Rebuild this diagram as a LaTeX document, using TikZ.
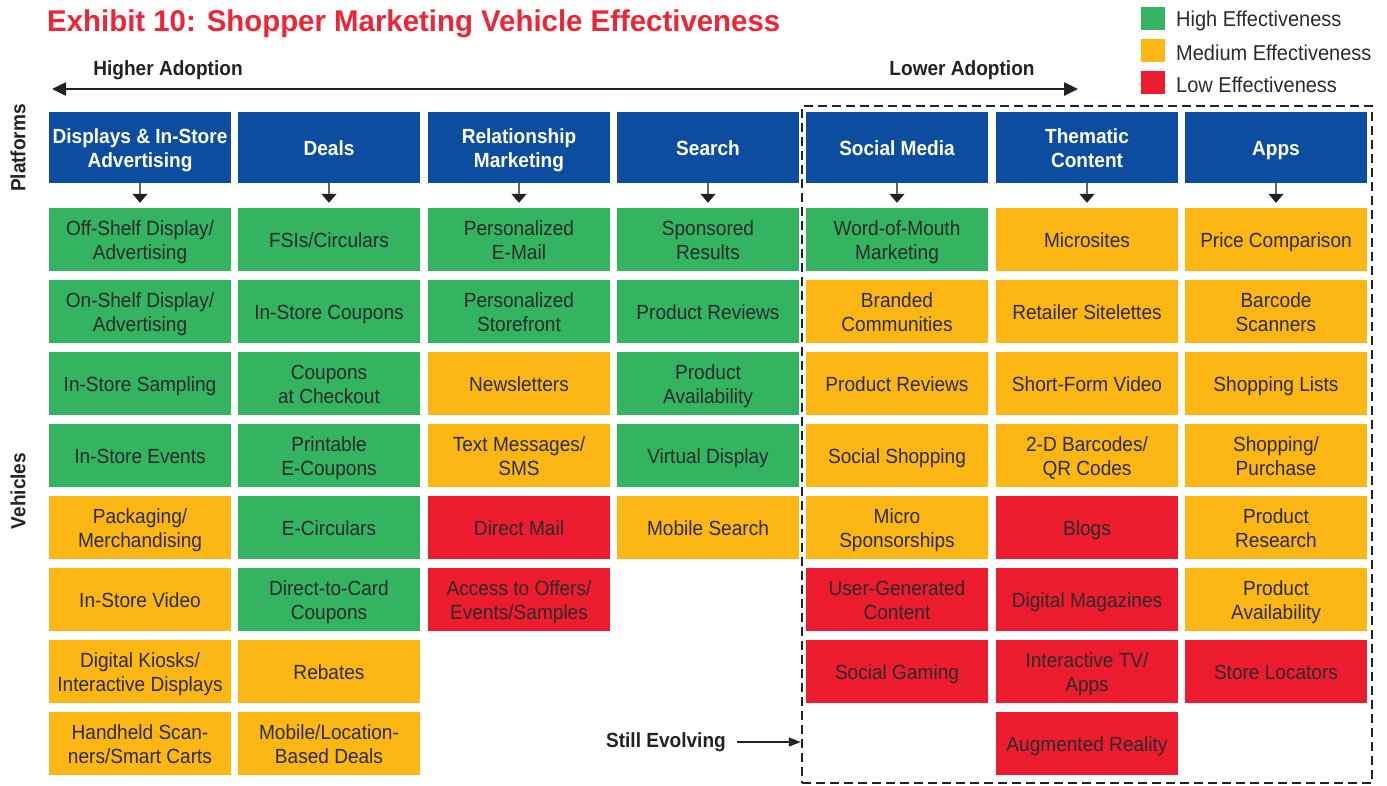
\documentclass[tikz,border=0pt]{standalone}
\usepackage{fontspec}
\setmainfont{Liberation Sans}[FakeStretch=0.93]
\newfontfamily\titlefont{Liberation Sans}[FakeStretch=0.98]
\usetikzlibrary{arrows.meta}
\definecolor{hgreen}{HTML}{34B361}
\definecolor{morange}{HTML}{FDB714}
\definecolor{lred}{HTML}{ED1C2E}
\definecolor{pblue}{HTML}{0D4DA0}
\definecolor{txt}{HTML}{2B2B2B}
\definecolor{titlered}{HTML}{EE2536}
\definecolor{dark}{HTML}{222222}
\newcommand\ct[1]{\vbox{\kern6.5pt\hbox{\begin{tabular}{@{}c@{}}#1\end{tabular}}}}
\tikzset{
  cell/.style={minimum width=182pt, minimum height=63pt, inner sep=0pt, text=txt, font=\fontsize{20.5}{24}\selectfont},
  G/.style={cell, fill=hgreen},
  M/.style={cell, fill=morange},
  L/.style={cell, fill=lred},
  hdr/.style={minimum width=182pt, minimum height=71pt, inner sep=0pt, fill=pblue, text=white, font=\bfseries\fontsize{20.5}{24}\selectfont},
  lbl/.style={text=dark, font=\bfseries\fontsize{20.5}{24}\selectfont, inner sep=0pt},
  legsq/.style={minimum width=24pt, minimum height=23pt, inner sep=0pt},
  legtxt/.style={anchor=west, inner sep=0pt, text=txt, font=\fontsize{21.5}{24}\selectfont},
  downarr/.style={draw=gray!80!black, line width=1.2pt, shorten >=5pt, -{Triangle[length=9pt,width=15pt,color=dark,fill=dark]}},
  mainarr/.style={draw=dark, line width=2.5pt, {Triangle[length=14pt,width=13pt]}-{Triangle[length=14pt,width=13pt]}},
  evarr/.style={draw=dark, line width=1.2pt, -{Triangle[length=12pt,width=9pt]}},
  evbox/.style={draw=dark, line width=2.5pt, dash pattern=on 9pt off 5pt, minimum width=570pt, minimum height=677pt, inner sep=0pt}
}
\begin{document}
\begin{tikzpicture}[x=1pt,y=-1pt]
\useasboundingbox (0,0) rectangle (1387,785);
% title
\node[anchor=base west, inner sep=0pt, text=titlered, font=\titlefont\bfseries\fontsize{30}{32}\selectfont] (title) at (47,31) {Exhibit 10: Shopper Marketing Vehicle Effectiveness};
% legend
\node[legsq, fill=hgreen] (lg1) at (1153,18.5) {};
\node[legsq, fill=morange] (lg2) at (1153,50.5) {};
\node[legsq, fill=lred] (lg3) at (1153,82.5) {};
\node[legtxt] (lt1) at (1176,20.5) {High Effectiveness};
\node[legtxt] (lt2) at (1176,52.5) {Medium Effectiveness};
\node[legtxt] (lt3) at (1176,84.5) {Low Effectiveness};
% adoption arrow
\coordinate (aL) at (52,89);
\coordinate (aR) at (1078,89);
\draw[mainarr] (aL) -- (aR);
\node[lbl] (hi) at (168,70) {Higher Adoption};
\node[lbl] (lo) at (962,70) {Lower Adoption};
% side labels
\node[lbl, rotate=90] (plat) at (18,148) {Platforms};
\node[lbl, rotate=90] (veh) at (18,491) {Vehicles};
% evolving box
\node[evbox] (ev) at (1087,444.5) {};
% headers
\node[hdr] (h1) at (140,147.5) {\ct{Displays \& In-Store\\Advertising}};
\node[hdr] (h2) at (329,147.5) {\ct{Deals}};
\node[hdr] (h3) at (519,147.5) {\ct{Relationship\\Marketing}};
\node[hdr] (h4) at (708,147.5) {\ct{Search}};
\node[hdr] (h5) at (897,147.5) {\ct{Social Media}};
\node[hdr] (h6) at (1087,147.5) {\ct{Thematic\\Content}};
\node[hdr] (h7) at (1276,147.5) {\ct{Apps}};
% column 1
\node[G] (c1-1) at (140,239.5) {\ct{Off-Shelf Display/\\Advertising}};
\node[G] (c1-2) at (140,311.5) {\ct{On-Shelf Display/\\Advertising}};
\node[G] (c1-3) at (140,383.5) {\ct{In-Store Sampling}};
\node[G] (c1-4) at (140,455.5) {\ct{In-Store Events}};
\node[M] (c1-5) at (140,527.5) {\ct{Packaging/\\Merchandising}};
\node[M] (c1-6) at (140,599.5) {\ct{In-Store Video}};
\node[M] (c1-7) at (140,671.5) {\ct{Digital Kiosks/\\Interactive Displays}};
\node[M] (c1-8) at (140,743.5) {\ct{Handheld Scan-\\ners/Smart Carts}};
% column 2
\node[G] (c2-1) at (329,239.5) {\ct{FSIs/Circulars}};
\node[G] (c2-2) at (329,311.5) {\ct{In-Store Coupons}};
\node[G] (c2-3) at (329,383.5) {\ct{Coupons\\at Checkout}};
\node[G] (c2-4) at (329,455.5) {\ct{Printable\\E-Coupons}};
\node[G] (c2-5) at (329,527.5) {\ct{E-Circulars}};
\node[G] (c2-6) at (329,599.5) {\ct{Direct-to-Card\\Coupons}};
\node[M] (c2-7) at (329,671.5) {\ct{Rebates}};
\node[M] (c2-8) at (329,743.5) {\ct{Mobile/Location-\\Based Deals}};
% column 3
\node[G] (c3-1) at (519,239.5) {\ct{Personalized\\E-Mail}};
\node[G] (c3-2) at (519,311.5) {\ct{Personalized\\Storefront}};
\node[M] (c3-3) at (519,383.5) {\ct{Newsletters}};
\node[M] (c3-4) at (519,455.5) {\ct{Text Messages/\\SMS}};
\node[L] (c3-5) at (519,527.5) {\ct{Direct Mail}};
\node[L] (c3-6) at (519,599.5) {\ct{Access to Offers/\\Events/Samples}};
% column 4
\node[G] (c4-1) at (708,239.5) {\ct{Sponsored\\Results}};
\node[G] (c4-2) at (708,311.5) {\ct{Product Reviews}};
\node[G] (c4-3) at (708,383.5) {\ct{Product\\Availability}};
\node[G] (c4-4) at (708,455.5) {\ct{Virtual Display}};
\node[M] (c4-5) at (708,527.5) {\ct{Mobile Search}};
% column 5
\node[G] (c5-1) at (897,239.5) {\ct{Word-of-Mouth\\Marketing}};
\node[M] (c5-2) at (897,311.5) {\ct{Branded\\Communities}};
\node[M] (c5-3) at (897,383.5) {\ct{Product Reviews}};
\node[M] (c5-4) at (897,455.5) {\ct{Social Shopping}};
\node[M] (c5-5) at (897,527.5) {\ct{Micro\\Sponsorships}};
\node[L] (c5-6) at (897,599.5) {\ct{User-Generated\\Content}};
\node[L] (c5-7) at (897,671.5) {\ct{Social Gaming}};
% column 6
\node[M] (c6-1) at (1087,239.5) {\ct{Microsites}};
\node[M] (c6-2) at (1087,311.5) {\ct{Retailer Sitelettes}};
\node[M] (c6-3) at (1087,383.5) {\ct{Short-Form Video}};
\node[M] (c6-4) at (1087,455.5) {\ct{2-D Barcodes/\\QR Codes}};
\node[L] (c6-5) at (1087,527.5) {\ct{Blogs}};
\node[L] (c6-6) at (1087,599.5) {\ct{Digital Magazines}};
\node[L] (c6-7) at (1087,671.5) {\ct{Interactive TV/\\Apps}};
\node[L] (c6-8) at (1087,743.5) {\ct{Augmented Reality}};
% column 7
\node[M] (c7-1) at (1276,239.5) {\ct{Price Comparison}};
\node[M] (c7-2) at (1276,311.5) {\ct{Barcode\\Scanners}};
\node[M] (c7-3) at (1276,383.5) {\ct{Shopping Lists}};
\node[M] (c7-4) at (1276,455.5) {\ct{Shopping/\\Purchase}};
\node[M] (c7-5) at (1276,527.5) {\ct{Product\\Research}};
\node[M] (c7-6) at (1276,599.5) {\ct{Product\\Availability}};
\node[L] (c7-7) at (1276,671.5) {\ct{Store Locators}};
% header arrows
\foreach \i in {1,...,7} {\draw[downarr] (h\i.south) -- (c\i-1.north);}
% still evolving
\node[lbl, anchor=east] (se) at (726,742) {Still Evolving};
\draw[evarr] ([xshift=11pt]se.east) -- (se.east -| ev.west);
\end{tikzpicture}
\end{document}
